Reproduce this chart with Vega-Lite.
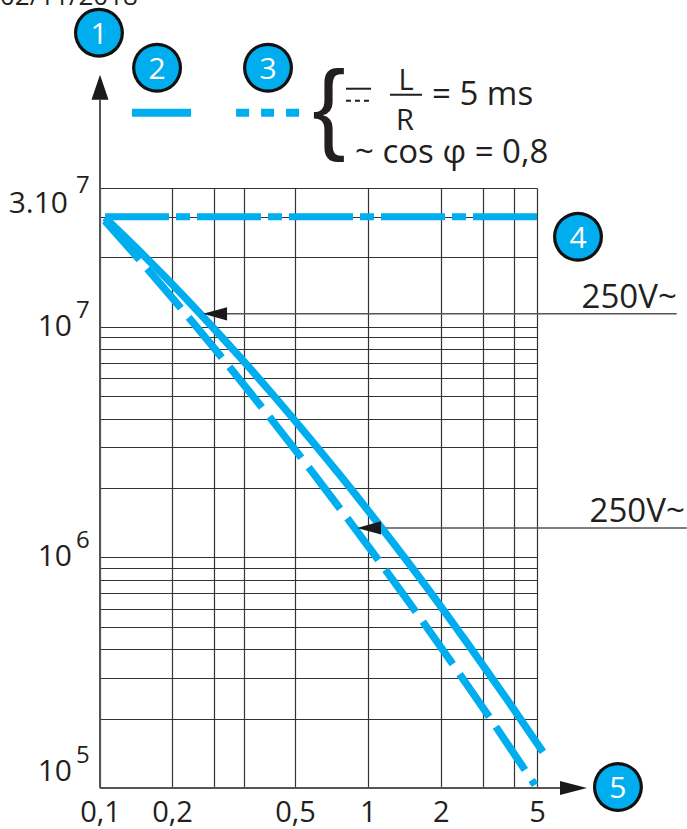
{
  "$schema": "https://vega.github.io/schema/vega-lite/v6.json",
  "width": 437,
  "height": 600,
  "autosize": {"type": "none"},
  "padding": {"left": 100, "top": 188, "right": 150, "bottom": 41},
  "background": "white",
  "config": {"view": {"stroke": null}, "font": "Open Sans"},
  "datasets": {
    "curves": [
      {"s": "solid", "x": 0.1049, "y": 29710000},
      {"s": "solid", "x": 0.1401, "y": 22240000},
      {"s": "solid", "x": 0.1871, "y": 16450000},
      {"s": "solid", "x": 0.2698, "y": 11050000},
      {"s": "solid", "x": 0.3853, "y": 7374000},
      {"s": "solid", "x": 0.4482, "y": 5251000},
      {"s": "solid", "x": 0.524, "y": 3694000},
      {"s": "solid", "x": 0.767, "y": 2273000},
      {"s": "solid", "x": 1.144, "y": 1336000},
      {"s": "solid", "x": 1.723, "y": 760000},
      {"s": "solid", "x": 2.544, "y": 432900},
      {"s": "solid", "x": 3.795, "y": 238700},
      {"s": "solid", "x": 5.294, "y": 143300},
      {"s": "dashed", "x": 0.1049, "y": 28840000},
      {"s": "dashed", "x": 0.1401, "y": 20550000},
      {"s": "dashed", "x": 0.1871, "y": 14520000},
      {"s": "dashed", "x": 0.2971, "y": 8190000},
      {"s": "dashed", "x": 0.4106, "y": 5193000},
      {"s": "dashed", "x": 0.4914, "y": 3089000},
      {"s": "dashed", "x": 0.704, "y": 1835000},
      {"s": "dashed", "x": 1.021, "y": 1090000},
      {"s": "dashed", "x": 1.452, "y": 656000},
      {"s": "dashed", "x": 2.124, "y": 373800},
      {"s": "dashed", "x": 2.991, "y": 222600},
      {"s": "dashed", "x": 4.174, "y": 132800},
      {"s": "dashed", "x": 4.905, "y": 103000}
    ],
    "level": [
      {"x": 0.1, "y": 30000000},
      {"x": 5, "y": 30000000}
    ],
    "legend": [
      {"s": "solid", "x": 0.1361, "y": 84800000},
      {"s": "solid", "x": 0.2403, "y": 84800000},
      {"s": "dashed", "x": 0.3707, "y": 84800000},
      {"s": "dashed", "x": 0.5294, "y": 84800000}
    ],
    "yaxis": [{"x": 0.1, "y": 100000, "y2": 96560000}],
    "xaxis": [{"x": 0.1, "x2": 6.22, "y": 100000}],
    "axisArrows": [
      {"dir": "up", "x": 0.1, "y": 109400000},
      {"dir": "right", "x": 7.075, "y": 100000}
    ],
    "refs": [
      {"x": 0.3, "x2": 18.9, "y": 11390000},
      {"x": 1.011, "x2": 20.8, "y": 1343000}
    ],
    "refLabels": [
      {"x": 18.9, "y": 11390000, "t": "250V~"},
      {"x": 20.4, "y": 1343000, "t": "250V~"}
    ],
    "pointers": [
      {"x": 0.3028, "y": 11390000},
      {"x": 1.011, "y": 1343000}
    ],
    "badges": [
      {"n": "1", "x": 0.099, "y": 188600000},
      {"n": "2", "x": 0.1732, "y": 132900000},
      {"n": "3", "x": 0.4443, "y": 132900000},
      {"n": "4", "x": 7.385, "y": 24580000},
      {"n": "5", "x": 10.8, "y": 101000}
    ],
    "ylabels": [
      {"x": 0.1, "y": 100000, "b": "10", "s": "5"},
      {"x": 0.1, "y": 1000000, "b": "10", "s": "6"},
      {"x": 0.1, "y": 10000000, "b": "10", "s": "7"},
      {"x": 0.1, "y": 30000000, "b": "3.10", "s": "7"}
    ],
    "dcBar": [{"x": 0.812, "x2": 1.031, "y": 107800000}],
    "dcDots": [{"x": 0.812, "x2": 1.031, "y": 95610000}],
    "fracBar": [{"x": 1.235, "x2": 1.674, "y": 101500000}],
    "fracText": [
      {"x": 1.437, "y": 106700000, "t": "L"},
      {"x": 1.424, "y": 71500000, "t": "R"}
    ],
    "legendText": [
      {"x": 1.841, "y": 91860000, "t": "= 5 ms"},
      {"x": 0.885, "y": 51460000, "t": "~ cos φ = 0,8"}
    ],
    "brace": [{"x": 0.691, "y": 86100000, "t": "{"}],
    "header": [{"x": 0.03816, "y": 249500000, "t": "02/11/2018"}]
  },
  "encoding": {
    "x": {
      "field": "x",
      "type": "quantitative",
      "scale": {"type": "log", "domain": [0.1, 0.4, 0.5, 5], "range": [0, 144, 195, 437], "nice": false},
      "axis": {
        "title": null,
        "values": [0.1, 0.2, 0.3, 0.4, 0.5, 1, 2, 3, 4, 5],
        "grid": true,
        "gridColor": "#333333",
        "gridWidth": 1.2,
        "gridOpacity": 1,
        "domain": false,
        "ticks": false,
        "labelFont": "Open Sans",
        "labelFontSize": 29,
        "labelColor": "#231F20",
        "labelPadding": 10,
        "labelFlush": false,
        "labelOverlap": false,
        "labelExpr": "(datum.value == 0.3 || datum.value == 0.4 || datum.value == 3 || datum.value == 4) ? '' : replace(format(datum.value, '~g'), '.', ',')"
      }
    },
    "y": {
      "field": "y",
      "type": "quantitative",
      "scale": {"type": "log", "domain": [100000, 40000000], "nice": false},
      "axis": {
        "title": null,
        "values": [100000, 200000, 300000, 400000, 500000, 600000, 700000, 800000, 900000, 1000000, 2000000, 3000000, 4000000, 5000000, 6000000, 7000000, 8000000, 9000000, 10000000, 20000000, 30000000, 40000000],
        "grid": true,
        "gridColor": "#333333",
        "gridWidth": 1.2,
        "gridOpacity": 1,
        "domain": false,
        "ticks": false,
        "labels": false
      }
    }
  },
  "layer": [
    {
      "data": {"name": "refs"},
      "mark": {"type": "rule", "color": "#555555", "strokeWidth": 1.5},
      "encoding": {"x2": {"field": "x2"}}
    },
    {
      "data": {"name": "refLabels"},
      "mark": {"type": "text", "align": "right", "baseline": "alphabetic", "dy": -6, "fontSize": 33, "font": "Open Sans", "color": "#231F20"},
      "encoding": {"text": {"field": "t"}}
    },
    {
      "data": {"name": "yaxis"},
      "mark": {"type": "rule", "color": "#555555", "strokeWidth": 2},
      "encoding": {"y2": {"field": "y2"}}
    },
    {
      "data": {"name": "xaxis"},
      "mark": {"type": "rule", "color": "#555555", "strokeWidth": 2},
      "encoding": {"x2": {"field": "x2"}}
    },
    {
      "data": {"name": "axisArrows"},
      "transform": [{"filter": "datum.dir === 'up'"}],
      "mark": {"type": "point", "shape": "M0,-1L0.68,1L-0.68,1Z", "filled": true, "color": "#1a1a1a", "opacity": 1, "size": 625}
    },
    {
      "data": {"name": "axisArrows"},
      "transform": [{"filter": "datum.dir === 'right'"}],
      "mark": {"type": "point", "shape": "M1,0L-1,-0.52L-1,0.52Z", "filled": true, "color": "#1a1a1a", "opacity": 1, "size": 729}
    },
    {
      "data": {"name": "curves"},
      "transform": [{"filter": "datum.s === 'solid'"}],
      "mark": {"type": "line", "color": "#00AEEF", "strokeWidth": 7.5, "strokeCap": "butt", "strokeJoin": "round", "interpolate": "monotone"}
    },
    {
      "data": {"name": "curves"},
      "transform": [{"filter": "datum.s === 'dashed'"}],
      "mark": {"type": "line", "color": "#00AEEF", "strokeWidth": 7.5, "strokeCap": "butt", "strokeJoin": "round", "strokeDash": [52, 12], "interpolate": "monotone"}
    },
    {
      "data": {"name": "level"},
      "mark": {"type": "line", "color": "#00AEEF", "strokeWidth": 7, "strokeCap": "butt", "strokeDash": [64, 7, 14, 7], "strokeDashOffset": 87}
    },
    {
      "data": {"name": "pointers"},
      "mark": {"type": "point", "shape": "M-1,0L1,-0.55L1,0.55Z", "filled": true, "color": "#1a1a1a", "opacity": 1, "size": 576}
    },
    {
      "data": {"name": "legend"},
      "transform": [{"filter": "datum.s === 'solid'"}],
      "mark": {"type": "line", "color": "#00AEEF", "strokeWidth": 8, "strokeCap": "butt"}
    },
    {
      "data": {"name": "legend"},
      "transform": [{"filter": "datum.s === 'dashed'"}],
      "mark": {"type": "line", "color": "#00AEEF", "strokeWidth": 8, "strokeCap": "butt", "strokeDash": [13, 12]}
    },
    {
      "data": {"name": "badges"},
      "mark": {"type": "point", "shape": "circle", "filled": true, "color": "#111111", "opacity": 1, "size": 2500}
    },
    {
      "data": {"name": "badges"},
      "mark": {"type": "point", "shape": "circle", "filled": true, "color": "#00AEEF", "opacity": 1, "size": 1900}
    },
    {
      "data": {"name": "badges"},
      "mark": {"type": "text", "align": "center", "baseline": "middle", "dy": 2, "fontSize": 30, "font": "Open Sans", "color": "white"},
      "encoding": {"text": {"field": "n"}}
    },
    {
      "data": {"name": "ylabels"},
      "transform": [{"filter": "datum.y == 1000000 || datum.y == 10000000"}],
      "mark": {"type": "text", "align": "right", "baseline": "middle", "dx": -28, "fontSize": 30, "font": "Open Sans", "color": "#231F20"},
      "encoding": {"text": {"field": "b"}}
    },
    {
      "data": {"name": "ylabels"},
      "transform": [{"filter": "datum.y == 1000000 || datum.y == 10000000"}],
      "mark": {"type": "text", "align": "left", "baseline": "middle", "dx": -24, "dy": -16, "fontSize": 24, "font": "Open Sans", "color": "#231F20"},
      "encoding": {"text": {"field": "s"}}
    },
    {
      "data": {"name": "ylabels"},
      "transform": [{"filter": "datum.y == 100000"}],
      "mark": {"type": "text", "align": "right", "baseline": "middle", "dx": -28, "dy": -16, "fontSize": 30, "font": "Open Sans", "color": "#231F20"},
      "encoding": {"text": {"field": "b"}}
    },
    {
      "data": {"name": "ylabels"},
      "transform": [{"filter": "datum.y == 100000"}],
      "mark": {"type": "text", "align": "left", "baseline": "middle", "dx": -24, "dy": -32, "fontSize": 24, "font": "Open Sans", "color": "#231F20"},
      "encoding": {"text": {"field": "s"}}
    },
    {
      "data": {"name": "ylabels"},
      "transform": [{"filter": "datum.y == 30000000"}],
      "mark": {"type": "text", "align": "right", "baseline": "middle", "dx": -32, "dy": -13, "fontSize": 30, "font": "Open Sans", "color": "#231F20"},
      "encoding": {"text": {"field": "b"}}
    },
    {
      "data": {"name": "ylabels"},
      "transform": [{"filter": "datum.y == 30000000"}],
      "mark": {"type": "text", "align": "left", "baseline": "middle", "dx": -24, "dy": -31, "fontSize": 24, "font": "Open Sans", "color": "#231F20"},
      "encoding": {"text": {"field": "s"}}
    },
    {
      "data": {"name": "dcBar"},
      "mark": {"type": "rule", "color": "#231F20", "strokeWidth": 2},
      "encoding": {"x2": {"field": "x2"}}
    },
    {
      "data": {"name": "dcDots"},
      "mark": {"type": "rule", "color": "#231F20", "strokeWidth": 2, "strokeDash": [5, 4]},
      "encoding": {"x2": {"field": "x2"}}
    },
    {
      "data": {"name": "fracBar"},
      "mark": {"type": "rule", "color": "#231F20", "strokeWidth": 2},
      "encoding": {"x2": {"field": "x2"}}
    },
    {
      "data": {"name": "fracText"},
      "mark": {"type": "text", "align": "center", "baseline": "alphabetic", "fontSize": 29, "font": "Open Sans", "color": "#231F20"},
      "encoding": {"text": {"field": "t"}}
    },
    {
      "data": {"name": "legendText"},
      "mark": {"type": "text", "align": "left", "baseline": "alphabetic", "fontSize": 33, "font": "Open Sans", "color": "#231F20"},
      "encoding": {"text": {"field": "t"}}
    },
    {
      "data": {"name": "brace"},
      "mark": {"type": "text", "align": "center", "baseline": "middle", "fontSize": 100, "font": "Liberation Sans", "color": "#231F20"},
      "encoding": {"text": {"field": "t"}}
    },
    {
      "data": {"name": "header"},
      "mark": {"type": "text", "align": "left", "baseline": "alphabetic", "fontSize": 26, "font": "Open Sans", "color": "#231F20"},
      "encoding": {"text": {"field": "t"}}
    }
  ]
}
